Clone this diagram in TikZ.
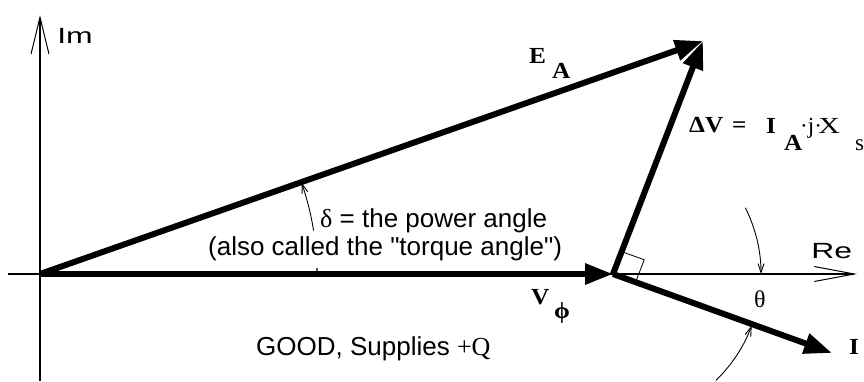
\documentclass[tikz,border=0pt]{standalone}
\usepackage{fontspec}
\setmainfont[Ligatures=TeXOff]{Liberation Sans}
\newfontfamily\tms{Liberation Serif}
\usetikzlibrary{arrows.meta,calc}
\begin{document}
\begin{tikzpicture}[x=1pt,y=-1pt,
  vec/.style={line width=6pt, -{Triangle[length=28pt,width=20pt]}},
  axisline/.style={line width=1.3pt},
  angarc/.style={line width=0.9pt, -{Straight Barb[length=9pt,width=6pt]}},
  lbl/.style={inner sep=0pt, anchor=base west},
  sanslbl/.style={lbl, font=\fontsize{26}{28}\selectfont},
  axlbl/.style={lbl, font=\fontsize{22}{24}\selectfont, xscale=1.45},
  boldlbl/.style={lbl, font=\tms\bfseries\fontsize{23}{25}\selectfont, xscale=1.1},
  romlbl/.style={lbl, font=\tms\fontsize{23}{25}\selectfont},
  rightmark/.style={line width=0.8pt},
]
\useasboundingbox (0,0) rectangle (864,381);
% key points
\coordinate (O) at (40,274);
\coordinate (J) at (613,274);
\coordinate (T) at (703,41);
\coordinate (IT) at (832,353);
\coordinate (xl) at (8,274);
\coordinate (xr) at (857,274);
\coordinate (yb) at (40,381);
\coordinate (yt) at (40,15);
\coordinate (ra1) at ($(J)!24pt!(T)$);
\coordinate (ra3) at ($(J)!24pt!(IT)$);
\coordinate (ra2) at ($(ra1)+(ra3)-(J)$);
% axes
\draw[axisline, -{Straight Barb[length=40pt,width=15pt,line width=1pt]}] (xl) -- (xr);
\draw[axisline, -{Straight Barb[length=37pt,width=18pt,line width=1pt]}] (yb) -- (yt);
\node[axlbl] (im) at (57,43) {Im};
\node[axlbl] (re) at (811,258) {Re};
% right angle marker
\draw[rightmark] (ra1) -- (ra2) -- (ra3);
% vectors
\draw[vec] (O) -- (J);
\draw[vec] (O) -- (T);
\draw[vec] (J) -- (T);
\draw[vec] (J) -- (IT);
% angle arcs
\draw[angarc] ([shift={(-9:277)}]O) arc[start angle=-9, end angle=-19.2, radius=277];
\draw[line width=1.2pt] ([shift={(-1.2:277)}]O) -- ([shift={(0:277)}]O);
\draw[angarc] ([shift={(-26.6:148)}]J) arc[start angle=-26.6, end angle=0, radius=148];
\draw[angarc] ([shift={(46:148)}]J) arc[start angle=46, end angle=20.5, radius=148];
% labels
\node[boldlbl] (ea) at (529,63) {E};
\node[boldlbl] (ea2) at (552,78) {A};
\node[boldlbl] (dv) at (689,132) {ΔV};
\node[boldlbl] (eq) at (732,132) {=};
\node[boldlbl] (ia) at (766,133) {I};
\node[boldlbl] (ia2) at (784,150) {A};
\node[romlbl] (jx) at (800,133) {·j·};
\node[romlbl, xscale=1.3] (xx) at (818,133) {X};
\node[romlbl] (xs) at (855,150) {s};
\node[boldlbl] (vp) at (531,304) {V};
\node[boldlbl] (vp2) at (554,318) {ϕ};
\node[boldlbl] (il) at (849,354) {I};
\node[lbl, font=\tms\fontsize{24}{26}\selectfont] (th) at (754,307) {θ};
\node[sanslbl] (delta) at (320,227) {{\tms δ} = the power angle};
\node[sanslbl] (also) at (208,255) {(also called the "torque angle")};
\node[sanslbl] (good) at (256,355) {GOOD, Supplies {\tms +Q}};
\end{tikzpicture}
\end{document}
